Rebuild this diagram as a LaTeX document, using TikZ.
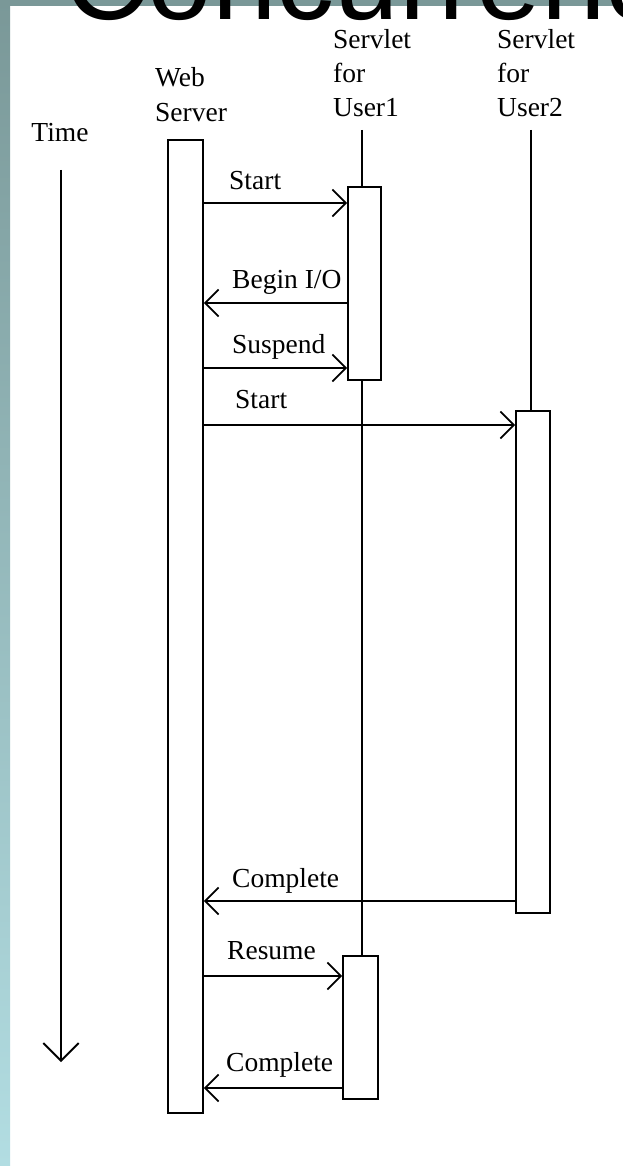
\documentclass[tikz,border=0pt]{standalone}
\usepackage{fontspec}
\setmainfont{Liberation Serif}
\newfontfamily\titlefont{Liberation Sans}
\usetikzlibrary{arrows.meta}
\definecolor{bandtop}{RGB}{122,152,152}
\definecolor{bandbot}{RGB}{178,221,226}
\begin{document}
\begin{tikzpicture}[x=1pt,y=-1pt,
  lbl/.style={font=\fontsize{27.5}{30}\selectfont, inner sep=0pt, anchor=base west},
  actbox/.style={draw, line width=1.8pt, fill=white, inner sep=0pt},
  lline/.style={line width=1.8pt},
  msg/.style={line width=1.8pt, -{Straight Barb[angle=90:19pt, line width=1.8pt]}},
  timearrow/.style={line width=1.8pt, -{Straight Barb[angle=90:25pt, line width=1.8pt]}}
]
\useasboundingbox (0,0) rectangle (622,1166);
\clip (0,0) rectangle (622,1166);
\fill[white] (0,0) rectangle (622,1166);
% slide frame
\fill[bandtop] (0,0) rectangle (622,6);
\shade[top color=bandtop, bottom color=bandbot] (0,0) rectangle (10,1166);
% title
\node[font=\titlefont\fontsize{116}{116}\selectfont, inner sep=0pt, anchor=base west, text depth=0pt] (title) at (64,20) {Concurrency};

% headers
\node[lbl, anchor=base] (time) at (60,142) {Time};
\node[lbl] (wsa) at (155,87) {Web};
\node[lbl] (wsb) at (155,122) {Server};
\node[lbl] (u1a) at (333,49) {Servlet};
\node[lbl] (u1b) at (333,83) {for};
\node[lbl] (u1c) at (333,117) {User1};
\node[lbl] (u2a) at (497,49) {Servlet};
\node[lbl] (u2b) at (497,83) {for};
\node[lbl] (u2c) at (497,117) {User2};

% time arrow
\coordinate (tstart) at (61,170);
\coordinate (tend) at (61,1062);
\draw[timearrow] (tstart) -- (tend);

% lifelines
\coordinate (l1top) at (362,130);
\coordinate (l1bot) at (362,956);
\coordinate (l2top) at (531,130);
\coordinate (l2bot) at (531,411);
\draw[lline] (l1top) -- (l1bot);
\draw[lline] (l2top) -- (l2bot);

% activation boxes
\node[actbox, minimum width=35pt, minimum height=973pt] (ws) at (185.5,626.5) {};
\node[actbox, minimum width=33pt, minimum height=193pt] (s1a) at (364.5,283.5) {};
\node[actbox, minimum width=35pt, minimum height=143pt] (s1b) at (360.5,1027.5) {};
\node[actbox, minimum width=34pt, minimum height=502pt] (s2) at (533,662) {};

% messages
\draw[msg] (ws.east |- 0,203) -- (s1a.west |- 0,203);
\node[lbl] (m1) at (229,190) {Start};
\draw[msg] (s1a.west |- 0,303) -- (ws.east |- 0,303);
\node[lbl] (m2) at (232,288) {Begin I/O};
\draw[msg] (ws.east |- 0,368) -- (s1a.west |- 0,368);
\node[lbl] (m3) at (232,353) {Suspend};
\draw[msg] (ws.east |- 0,425) -- (s2.west |- 0,425);
\node[lbl] (m4) at (235,408) {Start};
\draw[msg] (s2.west |- 0,901) -- (ws.east |- 0,901);
\node[lbl] (m5) at (232,887) {Complete};
\draw[msg] (ws.east |- 0,976) -- (s1b.west |- 0,976);
\node[lbl] (m6) at (227,959) {Resume};
\draw[msg] (s1b.west |- 0,1088) -- (ws.east |- 0,1088);
\node[lbl] (m7) at (226,1071) {Complete};
\end{tikzpicture}
\end{document}
